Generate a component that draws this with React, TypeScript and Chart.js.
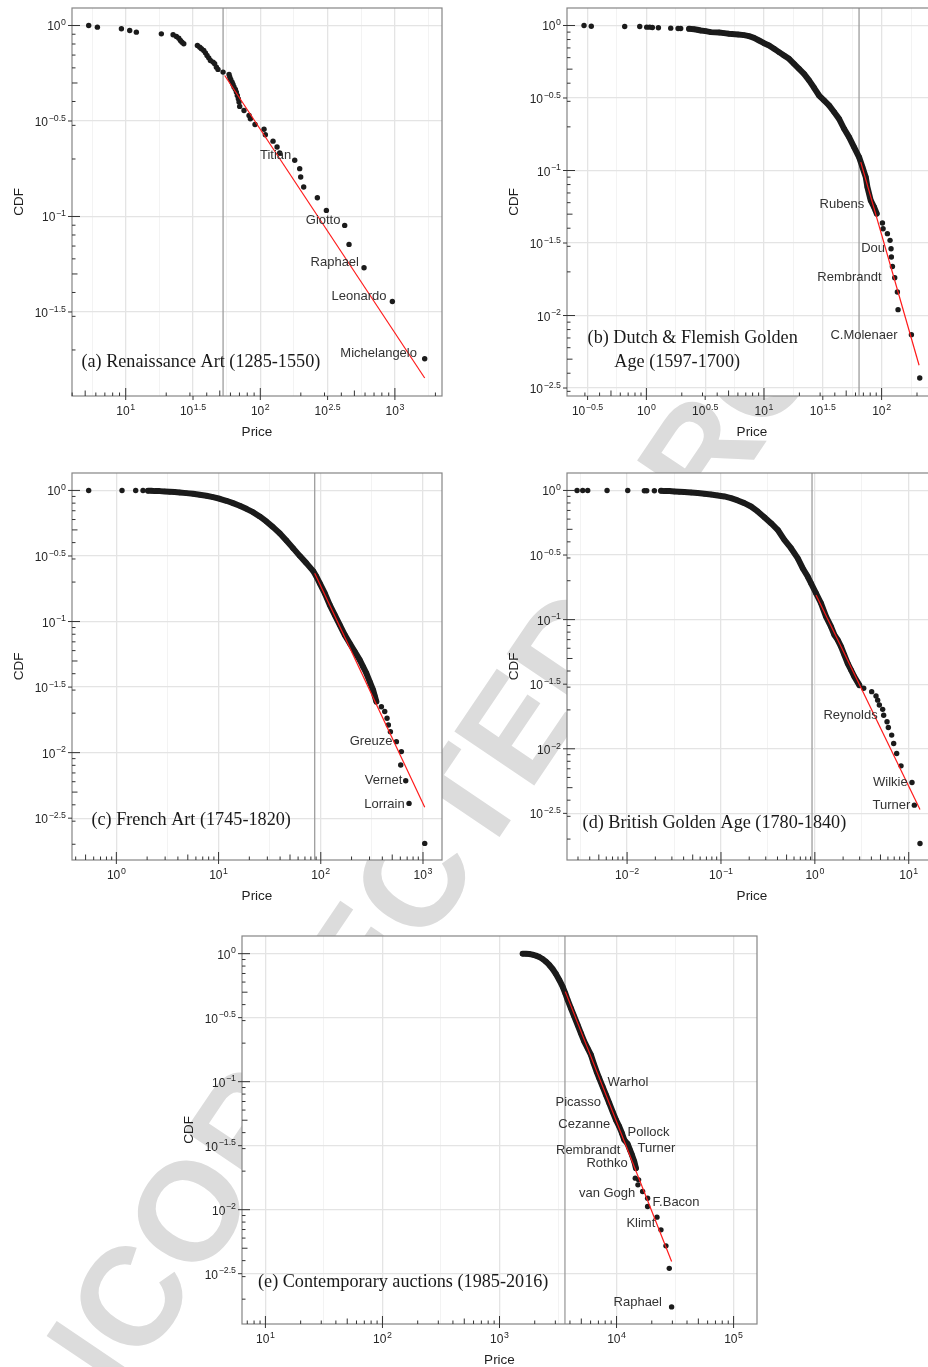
import React, { useEffect, useRef } from 'react';
import { Chart, registerables } from 'chart.js';

Chart.register(...registerables);

// ---------------- (a) Renaissance Art ----------------
const renPrice = [5.31, 6.16, 9.29, 10.71, 12.0, 18.4, 22.5, 23.8, 24.8, 25.5, 26.2, 27.0, 34.1, 35.5, 36.5, 38.0, 39.1, 40.2, 41.4, 42.6, 44.6, 45.8, 47.2, 48.5, 52.9, 58.6, 59.3, 60.3, 61.7, 62.7, 63.8, 65.3, 66.4, 67.5, 68.7, 69.5, 70.3, 75.7, 82.5, 84.4, 91.4, 106.6, 109.0, 124.3, 133.2, 139.4, 180.2, 196.2, 199.6, 210.1, 265.5, 309.7, 423.7, 456.3, 589.8, 957.6, 1665];
const renCdf = [1.0, 0.980, 0.961, 0.942, 0.923, 0.904, 0.894, 0.876, 0.858, 0.835, 0.818, 0.802, 0.786, 0.770, 0.755, 0.740, 0.719, 0.697, 0.677, 0.656, 0.643, 0.630, 0.605, 0.589, 0.570, 0.554, 0.537, 0.522, 0.505, 0.491, 0.476, 0.463, 0.448, 0.430, 0.413, 0.397, 0.377, 0.359, 0.338, 0.325, 0.303, 0.286, 0.268, 0.248, 0.231, 0.215, 0.197, 0.178, 0.161, 0.1426, 0.1254, 0.1076, 0.0898, 0.0714, 0.0539, 0.0359, 0.0180];
const renFitPrice = [54.4, 1665];
const renFitCdf = [0.547, 0.01427];
const renXmin = 52.9;
const renLabelText = ['Titian', 'Giotto', 'Raphael', 'Leonardo', 'Michelangelo'];
const renLabelPrice = [170, 394, 541, 865, 1459];
const renLabelCdf = [0.209, 0.0954, 0.0573, 0.0383, 0.01914];
const renLabelAlign = ['right', 'right', 'right', 'right', 'right'];
const renXTicks = [1, 1.5, 2, 2.5, 3];
const renYTicks = [0, -0.5, -1, -1.5];

// ---------------- (b) Dutch & Flemish Golden Age ----------------
const dutPrice = [0.295, 0.340, 0.654, 0.878, 1.006, 1.067, 1.124, 1.265, 1.610, 1.859, 1.958, 2.306, 2.543, 2.714, 2.897, 3.195, 3.524, 4.149, 4.575, 5.046, 6.020, 6.769, 7.464, 8.232, 9.080, 10.01, 11.04, 12.18, 13.43, 14.81, 16.34, 18.02, 19.87, 21.91, 24.17, 26.66, 29.40, 32.42, 35.75, 39.43, 43.49, 47.96, 52.9, 58.3, 64.3, 68.7, 73.3, 75.7, 80.8, 86.3, 90.9, 101.6, 102.9, 112.0, 118.0, 120.3, 121.1, 123.6, 129.3, 136.2, 138.0, 179.2, 211.0];
const dutCdf = [1.0, 0.989, 0.984, 0.984, 0.974, 0.974, 0.969, 0.964, 0.959, 0.954, 0.954, 0.948, 0.943, 0.934, 0.924, 0.914, 0.900, 0.895, 0.886, 0.876, 0.867, 0.858, 0.844, 0.822, 0.788, 0.755, 0.728, 0.691, 0.655, 0.621, 0.589, 0.544, 0.503, 0.464, 0.418, 0.372, 0.329, 0.304, 0.281, 0.253, 0.227, 0.194, 0.170, 0.145, 0.1238, 0.1056, 0.0901, 0.0769, 0.0622, 0.0560, 0.0504, 0.0434, 0.0397, 0.0367, 0.0330, 0.0289, 0.0253, 0.0218, 0.0182, 0.01453, 0.01098, 0.00738, 0.00371];
const dutFitPrice = [66.5, 208.3];
const dutFitCdf = [0.1143, 0.00454];
const dutXmin = 64.3;
const dutLabelText = ['Rubens', 'Dou', 'Rembrandt', 'C.Molenaer'];
const dutLabelPrice = [71.3, 106.9, 100, 136.8];
const dutLabelCdf = [0.0584, 0.0289, 0.01825, 0.0073];
const dutLabelAlign = ['right', 'right', 'right', 'right'];
const dutXTicks = [-0.5, 0, 0.5, 1, 1.5, 2];
const dutYTicks = [0, -0.5, -1, -1.5, -2, -2.5];

// ---------------- (c) French Art ----------------
const frePrice = [0.536, 1.136, 1.546, 1.823, 2.041, 2.200, 2.372, 2.655, 2.972, 3.325, 3.723, 4.167, 4.841, 5.626, 6.538, 7.597, 8.830, 10.26, 11.92, 13.86, 16.10, 18.71, 21.75, 25.27, 29.36, 34.12, 39.65, 46.07, 53.54, 62.22, 72.3, 84.0, 90.6, 97.6, 109.3, 122.3, 136.9, 153.2, 171.5, 191.9, 214.8, 240.4, 259.2, 279.4, 301.2, 324.7, 337.1, 349.9, 391.7, 422.3, 445.0, 458.6, 479.8, 549.3, 614.8, 605.6, 677.7, 730.4, 1040];
const freCdf = [1.0, 1.0, 1.0, 1.0, 0.994, 0.994, 0.988, 0.988, 0.983, 0.977, 0.971, 0.965, 0.954, 0.943, 0.927, 0.911, 0.889, 0.864, 0.834, 0.800, 0.764, 0.724, 0.683, 0.633, 0.580, 0.525, 0.472, 0.415, 0.363, 0.317, 0.279, 0.2436, 0.2206, 0.1962, 0.1646, 0.1340, 0.1124, 0.0943, 0.0791, 0.0683, 0.0590, 0.0510, 0.0453, 0.0403, 0.0348, 0.0301, 0.0271, 0.0245, 0.0224, 0.0206, 0.0183, 0.01626, 0.01446, 0.01213, 0.01018, 0.00805, 0.00611, 0.00410, 0.00203];
const freFitPrice = [87.2, 1040];
const freFitCdf = [0.2339, 0.00383];
const freXmin = 87.2;
const freLabelText = ['Greuze', 'Vernet', 'Lorrain'];
const freLabelPrice = [501.9, 628.6, 662.2];
const freLabelCdf = [0.01213, 0.00611, 0.00406];
const freLabelAlign = ['right', 'right', 'right'];
const freXTicks = [0, 1, 2, 3];
const freYTicks = [0, -0.5, -1, -1.5, -2, -2.5];

// ---------------- (d) British Golden Age ----------------
const briPrice = [0.002933, 0.003369, 0.003808, 0.006120, 0.01016, 0.01528, 0.01619, 0.01953, 0.02300, 0.02495, 0.02821, 0.03189, 0.03606, 0.04075, 0.04800, 0.05652, 0.06655, 0.07836, 0.09231, 0.1087, 0.1280, 0.1508, 0.1775, 0.2090, 0.2461, 0.2899, 0.3414, 0.4019, 0.4733, 0.5573, 0.6563, 0.742, 0.8388, 0.9103, 1.029, 1.163, 1.315, 1.486, 1.613, 1.751, 1.900, 2.062, 2.237, 2.428, 2.635, 2.979, 3.313, 4.030, 4.482, 4.669, 4.864, 5.278, 5.409, 5.870, 6.065, 6.581, 6.912, 7.438, 8.275, 10.83, 11.47, 13.18];
const briCdf = [1.0, 1.0, 1.0, 1.0, 1.0, 0.994, 0.994, 0.994, 0.994, 0.988, 0.988, 0.982, 0.976, 0.971, 0.965, 0.954, 0.942, 0.931, 0.915, 0.899, 0.872, 0.837, 0.798, 0.751, 0.688, 0.621, 0.558, 0.496, 0.4146, 0.357, 0.299, 0.250, 0.2154, 0.1913, 0.160, 0.1338, 0.1055, 0.0882, 0.0761, 0.0696, 0.0618, 0.0532, 0.0459, 0.0407, 0.0361, 0.0311, 0.0294, 0.0277, 0.0256, 0.0238, 0.0218, 0.0202, 0.0182, 0.0162, 0.01463, 0.01276, 0.0110, 0.0092, 0.00738, 0.00548, 0.00366, 0.00185];
const briFitPrice = [1.029, 13.18];
const briFitCdf = [0.1553, 0.00339];
const briXmin = 0.933;
const briLabelText = ['Reynolds', 'Wilkie', 'Turner'];
const briLabelPrice = [4.665, 9.734, 10.40];
const briLabelCdf = [0.01825, 0.00549, 0.00366];
const briLabelAlign = ['right', 'right', 'right'];
const briXTicks = [-2, -1, 0, 1];
const briYTicks = [0, -0.5, -1, -1.5, -2, -2.5];

// ---------------- (e) Contemporary auctions ----------------
const conPrice = [1576, 1683, 1797, 1919, 2049, 2188, 2336, 2494, 2664, 2844, 3036, 3242, 3462, 3649, 3820, 4079, 4355, 4649, 4965, 5301, 5660, 6043, 6371, 6755, 7120, 7603, 8118, 8667, 9255, 9882, 10551, 11120, 11643, 12432, 13016, 13540, 14174, 14646, 14454, 15435, 15234, 16702, 18424, 18424, 22139, 23952, 26424, 28215, 29543];
const conCdf = [1.0, 0.999, 0.994, 0.982, 0.965, 0.942, 0.909, 0.866, 0.816, 0.759, 0.694, 0.623, 0.553, 0.490, 0.4347, 0.3744, 0.3224, 0.2774, 0.2388, 0.2056, 0.1824, 0.1618, 0.1393, 0.1199, 0.1063, 0.0916, 0.0788, 0.0679, 0.0584, 0.0503, 0.0446, 0.0396, 0.0351, 0.0327, 0.0293, 0.0268, 0.0238, 0.0211, 0.01763, 0.01710, 0.01563, 0.01387, 0.01230, 0.01059, 0.00874, 0.00696, 0.00522, 0.00348, 0.00174];
const conFitPrice = [3649, 29543];
const conFitCdf = [0.505, 0.00394];
const conXmin = 3624;
const conLabelText = ['Warhol', 'Picasso', 'Cezanne', 'Pollock', 'Turner', 'Rembrandt', 'Rothko', 'van Gogh', 'F.Bacon', 'Klimt', 'Raphael'];
const conLabelPrice = [8387, 7369, 8846, 12432, 15132, 10767, 12432, 14461, 20324, 21429, 24449];
const conLabelCdf = [0.0991, 0.0687, 0.0460, 0.0403, 0.0303, 0.0288, 0.0228, 0.01348, 0.01147, 0.00776, 0.0019];
const conLabelAlign = ['left', 'right', 'right', 'left', 'left', 'right', 'right', 'right', 'left', 'right', 'right'];
const conXTicks = [1, 2, 3, 4, 5];
const conYTicks = [0, -0.5, -1, -1.5, -2, -2.5];

const WATERMARK = 'UNCORRECTED PROOF';

// ---------------- styling / layout ----------------
const SANS = '"Liberation Sans", Arial, Helvetica, sans-serif';
const SERIF = '"Liberation Serif", "Times New Roman", serif';
const PT = '#1b1b1b';
const PAD = { left: 74, top: 10, right: 10, bottom: 50 };

const panels = [
  {
    price: renPrice, cdf: renCdf, dense: null,
    fitPrice: renFitPrice, fitCdf: renFitCdf, xmin: renXmin,
    lt: renLabelText, lp: renLabelPrice, lc: renLabelCdf, la: renLabelAlign,
    xTicks: renXTicks, yTicks: renYTicks,
    box: { l: 72.3, t: 7.5, r: 442.3, b: 395.7 }, xr: [0.601, 3.35], yr: [-1.94, 0.0916],
    title: ['(a) Renaissance Art (1285-1550)'], titleDx: [9.4], titleDy: [34],
  },
  {
    price: dutPrice, cdf: dutCdf, dense: [11, 50],
    fitPrice: dutFitPrice, fitCdf: dutFitCdf, xmin: dutXmin,
    lt: dutLabelText, lp: dutLabelPrice, lc: dutLabelCdf, la: dutLabelAlign,
    xTicks: dutXTicks, yTicks: dutYTicks,
    box: { l: 566.7, t: 7.5, r: 936.7, b: 395.7 }, xr: [-0.675, 2.471], yr: [-2.555, 0.1206],
    title: ['(b) Dutch & Flemish Golden', 'Age (1597-1700)'], titleDx: [20.6, 47.3], titleDy: [57.4, 34],
  },
  {
    price: frePrice, cdf: freCdf, dense: [4, 47],
    fitPrice: freFitPrice, fitCdf: freFitCdf, xmin: freXmin,
    lt: freLabelText, lp: freLabelPrice, lc: freLabelCdf, la: freLabelAlign,
    xTicks: freXTicks, yTicks: freYTicks,
    box: { l: 72.3, t: 473.3, r: 442.3, b: 860 }, xr: [-0.434, 3.186], yr: [-2.819, 0.133],
    title: ['(c) French Art (1745-1820)'], titleDx: [19.4], titleDy: [40],
  },
  {
    price: briPrice, cdf: briCdf, dense: [8, 45],
    fitPrice: briFitPrice, fitCdf: briFitCdf, xmin: briXmin,
    lt: briLabelText, lp: briLabelPrice, lc: briLabelCdf, la: briLabelAlign,
    xTicks: briXTicks, yTicks: briYTicks,
    box: { l: 566.7, t: 473.3, r: 936.7, b: 860 }, xr: [-2.64, 1.301], yr: [-2.861, 0.135],
    title: ['(d) British Golden Age (1780-1840)'], titleDx: [15.6], titleDy: [36.7],
  },
  {
    price: conPrice, cdf: conCdf, dense: [0, 37],
    fitPrice: conFitPrice, fitCdf: conFitCdf, xmin: conXmin,
    lt: conLabelText, lp: conLabelPrice, lc: conLabelCdf, la: conLabelAlign,
    xTicks: conXTicks, yTicks: conYTicks,
    box: { l: 242.3, t: 936, r: 757.7, b: 1324.3 }, xr: [0.8, 5.2], yr: [-2.893, 0.138],
    title: ['(e) Contemporary auctions (1985-2016)'], titleDx: [16], titleDy: [41.6],
  },
];

function minorOf(ticks: number[], range: number[]) {
  const step = ticks[1] - ticks[0];
  const out: number[] = [];
  for (let e = ticks[0] - step / 2; e <= ticks[ticks.length - 1] + step / 2 + 1e-9; e += step) {
    if (e >= range[0] && e <= range[1]) out.push(e);
  }
  return out;
}

function isMajor(v: number, ticks: number[]) {
  const lv = Math.log10(v);
  return ticks.some((t) => Math.abs(t - lv) < 1e-6);
}

function expText(e: number) {
  const s = String(Math.abs(e));
  return (e < 0 ? '\u2212' : '') + s;
}

const BASE_FS = 12;
const SUP_FS = 8.8;

function drawPow(ctx: any, x: number, y: number, e: number, align: string) {
  ctx.font = `${BASE_FS}px ${SANS}`;
  const wb = ctx.measureText('10').width;
  ctx.font = `${SUP_FS}px ${SANS}`;
  const ex = expText(e);
  const we = ctx.measureText(ex).width;
  const total = wb + 0.6 + we;
  const x0 = align === 'right' ? x - total : x - total / 2;
  ctx.textAlign = 'left';
  ctx.textBaseline = 'alphabetic';
  ctx.font = `${BASE_FS}px ${SANS}`;
  ctx.fillText('10', x0, y);
  ctx.font = `${SUP_FS}px ${SANS}`;
  ctx.fillText(ex, x0 + wb + 0.6, y - 5.2);
}

function makeDecor(p: any) {
  return {
    id: 'panelDecor',
    beforeDraw(chart: any) {
      const { ctx, chartArea: a } = chart;
      ctx.save();
      ctx.fillStyle = '#ffffff';
      ctx.fillRect(a.left, a.top, a.right - a.left, a.bottom - a.top);
      ctx.restore();
    },
    afterDraw(chart: any) {
      const { ctx, chartArea: a } = chart;
      const xs = chart.scales.x;
      const ys = chart.scales.y;
      ctx.save();
      // panel border
      ctx.strokeStyle = '#858585';
      ctx.lineWidth = 1.2;
      ctx.strokeRect(a.left, a.top, a.right - a.left, a.bottom - a.top);

      // axis ticks and log ticks
      ctx.strokeStyle = '#333333';
      ctx.lineWidth = 1;
      ctx.beginPath();
      p.xTicks.forEach((e: number) => {
        const x = xs.getPixelForValue(Math.pow(10, e));
        ctx.moveTo(x, a.bottom);
        ctx.lineTo(x, a.bottom + 4);
      });
      p.yTicks.forEach((e: number) => {
        const y = ys.getPixelForValue(Math.pow(10, e));
        ctx.moveTo(a.left, y);
        ctx.lineTo(a.left - 4, y);
      });
      for (let k = Math.floor(p.xr[0]); k <= Math.ceil(p.xr[1]); k++) {
        for (let m = 1; m <= 9; m++) {
          const lv = Math.log10(m) + k;
          if (lv < p.xr[0] || lv > p.xr[1]) continue;
          const x = xs.getPixelForValue(m * Math.pow(10, k));
          const len = m === 1 ? 8 : m === 5 ? 5.5 : 3.5;
          ctx.moveTo(x, a.bottom);
          ctx.lineTo(x, a.bottom - len);
        }
      }
      for (let k = Math.floor(p.yr[0]); k <= Math.ceil(p.yr[1]); k++) {
        for (let m = 1; m <= 9; m++) {
          const lv = Math.log10(m) + k;
          if (lv < p.yr[0] || lv > p.yr[1]) continue;
          const y = ys.getPixelForValue(m * Math.pow(10, k));
          const len = m === 1 ? 8 : m === 5 ? 5.5 : 3.5;
          ctx.moveTo(a.left, y);
          ctx.lineTo(a.left + len, y);
        }
      }
      ctx.stroke();

      // tick labels
      ctx.fillStyle = '#262626';
      p.xTicks.forEach((e: number) => {
        drawPow(ctx, xs.getPixelForValue(Math.pow(10, e)), a.bottom + 19, e, 'center');
      });
      p.yTicks.forEach((e: number) => {
        drawPow(ctx, a.left - 6, ys.getPixelForValue(Math.pow(10, e)) + 5, e, 'right');
      });

      // axis titles
      ctx.fillStyle = '#1f1f1f';
      ctx.font = `13.5px ${SANS}`;
      ctx.textAlign = 'center';
      ctx.textBaseline = 'middle';
      ctx.fillText('Price', (a.left + a.right) / 2, a.bottom + 36);
      ctx.save();
      ctx.translate(a.left - 53, (a.top + a.bottom) / 2);
      ctx.rotate(-Math.PI / 2);
      ctx.fillText('CDF', 0, 0);
      ctx.restore();

      // panel title
      ctx.fillStyle = '#1a1a1a';
      ctx.font = `18.2px ${SERIF}`;
      ctx.textAlign = 'left';
      ctx.textBaseline = 'middle';
      p.title.forEach((t: string, i: number) => {
        ctx.fillText(t, a.left + p.titleDx[i], a.bottom - p.titleDy[i]);
      });

      // artist labels
      ctx.fillStyle = '#333333';
      ctx.font = `13px ${SANS}`;
      ctx.textBaseline = 'middle';
      p.lt.forEach((t: string, i: number) => {
        ctx.textAlign = p.la[i];
        ctx.fillText(t, xs.getPixelForValue(p.lp[i]), ys.getPixelForValue(p.lc[i]));
      });
      ctx.restore();
    },
  };
}

function buildChart(canvas: HTMLCanvasElement, p: any) {
  const pts = p.price.map((x: number, i: number) => ({ x, y: p.cdf[i] }));
  const fit = p.fitPrice.map((x: number, i: number) => ({ x, y: p.fitCdf[i] }));
  const vline = [
    { x: p.xmin, y: Math.pow(10, p.yr[0]) },
    { x: p.xmin, y: Math.pow(10, p.yr[1]) },
  ];
  const xMinor = minorOf(p.xTicks, p.xr);
  const yMinor = minorOf(p.yTicks, p.yr);
  const axis = (ticks: number[], minor: number[], range: number[]) => ({
    type: 'logarithmic' as const,
    min: Math.pow(10, range[0]),
    max: Math.pow(10, range[1]),
    bounds: 'data' as const,
    ticks: { display: false },
    title: { display: false },
    border: { display: false },
    grid: {
      drawTicks: false,
      color: (c: any) => (c.tick && isMajor(c.tick.value, ticks) ? '#e4e4e4' : '#f0f0f0'),
      lineWidth: (c: any) => (c.tick && isMajor(c.tick.value, ticks) ? 1.3 : 0.8),
    },
    afterBuildTicks: (scale: any) => {
      scale.ticks = [...ticks, ...minor].map((e) => ({ value: Math.pow(10, e) }));
    },
  });
  const dense = p.dense;
  return new Chart(canvas, {
    type: 'line',
    data: {
      datasets: [
        {
          data: fit,
          borderColor: '#ff1a1a',
          borderWidth: 1.2,
          pointRadius: 0,
          tension: 0,
        },
        {
          data: pts,
          showLine: !!dense,
          borderColor: PT,
          borderWidth: 6,
          borderCapStyle: 'round',
          borderJoinStyle: 'round',
          tension: 0,
          segment: {
            borderColor: (c: any) =>
              dense && c.p0DataIndex >= dense[0] && c.p1DataIndex <= dense[1] ? PT : 'rgba(0,0,0,0)',
          },
          pointRadius: 2.7,
          pointBorderWidth: 0,
          pointBackgroundColor: PT,
        },
        {
          data: vline,
          borderColor: '#9d9d9d',
          borderWidth: 1.3,
          pointRadius: 0,
          tension: 0,
        },
      ],
    },
    options: {
      animation: false,
      responsive: false,
      maintainAspectRatio: false,
      events: [],
      layout: { padding: PAD },
      plugins: { legend: { display: false }, tooltip: { enabled: false } },
      scales: {
        x: axis(p.xTicks, xMinor, p.xr),
        y: axis(p.yTicks, yMinor, p.yr),
      },
    },
    plugins: [makeDecor(p)],
  } as any);
}

export default function App() {
  const wmRef = useRef<HTMLCanvasElement>(null);
  const refs = useRef<(HTMLCanvasElement | null)[]>([]);

  useEffect(() => {
    const wm = wmRef.current;
    if (wm) {
      const c = wm.getContext('2d')!;
      c.clearRect(0, 0, wm.width, wm.height);
      c.save();
      c.translate(28.8, 1534.7);
      c.rotate((-56 * Math.PI) / 180);
      c.font = `bold 140px ${SANS}`;
      c.fillStyle = '#dcdcdc';
      c.textBaseline = 'alphabetic';
      c.fillText(WATERMARK, 0, 0);
      c.restore();
    }
    const charts = panels.map((p, i) => buildChart(refs.current[i]!, p));
    return () => charts.forEach((ch) => ch.destroy());
  }, []);

  return (
    <div style={{ position: 'absolute', left: 0, top: 0, width: 928, height: 1367, overflow: 'hidden', background: '#fff' }}>
      <canvas ref={wmRef} width={928} height={1367} style={{ position: 'absolute', left: 0, top: 0 }} />
      {panels.map((p, i) => {
        const w = Math.round(p.box.r - p.box.l + PAD.left + PAD.right);
        const h = Math.round(p.box.b - p.box.t + PAD.top + PAD.bottom);
        return (
          <canvas
            key={i}
            ref={(el) => { refs.current[i] = el; }}
            width={w}
            height={h}
            style={{ position: 'absolute', left: p.box.l - PAD.left, top: p.box.t - PAD.top, width: w, height: h }}
          />
        );
      })}
    </div>
  );
}
